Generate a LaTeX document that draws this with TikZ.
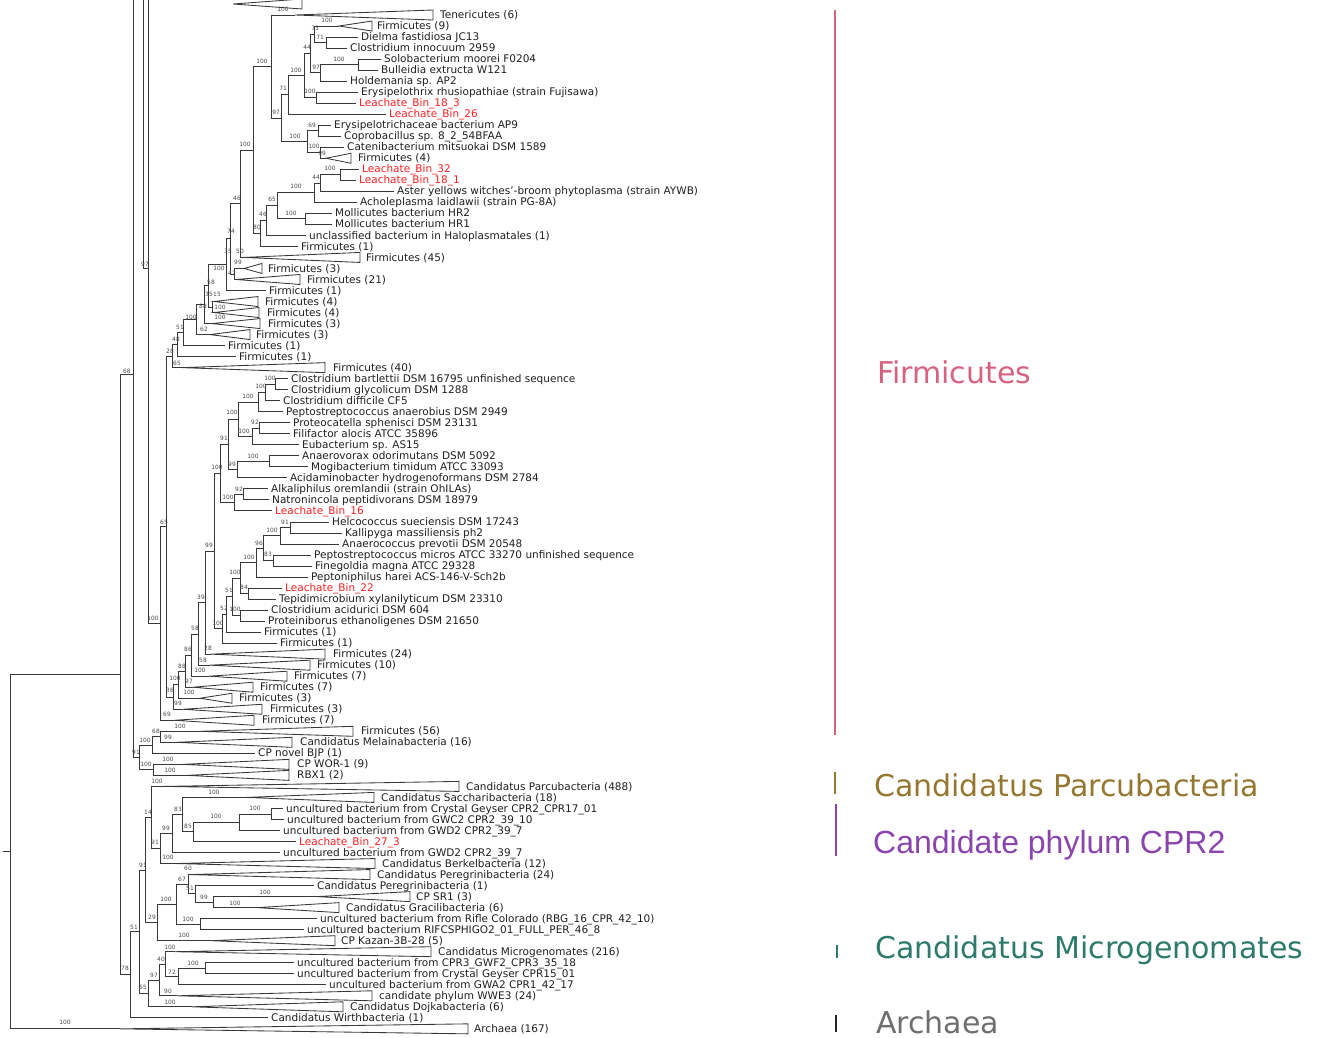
\documentclass[tikz,border=0pt]{standalone}
\usepackage{fontspec}
\setmainfont{DejaVu Sans}
\newfontfamily\cprfont{Liberation Sans}
\usetikzlibrary{calc}
\definecolor{firm}{HTML}{D6627F}
\definecolor{parc}{HTML}{957730}
\definecolor{cprtwo}{HTML}{8A44AE}
\definecolor{micro}{HTML}{2D7A6C}
\definecolor{arch}{HTML}{6E6E6E}
\definecolor{leach}{HTML}{FF2020}
\newcommand{\lfont}{\fontsize{10.5}{11}\selectfont}
\newcommand{\sfont}{\fontsize{5.9}{6.5}\selectfont}
\newcommand{\lf}[4][]{%
  \coordinate (t#2) at ({#3-3},{15+11.02*#2});
  \node[leaf,#1] (r#2) at (#3,{15+11.02*#2}) {#4};}
\newcommand{\tri}[6][]{%
  \coordinate (t#2) at (#3,{15+11.02*#2});
  \draw[br] (t#2) -- (#4,{15+11.02*#2-5}) -- (#4,{15+11.02*#2+5}) -- cycle;
  \node[leaf,#1] (r#2) at (#5,{15+11.02*#2}) {#6};}
\newcommand{\nd}[4]{%
  \path let \p1=(#3), \p2=(#4) in (#2pt,{0.5*\y1+0.5*\y2}) coordinate (#1);
  \draw[br] (#1) |- (#3);
  \draw[br] (#1) |- (#4);}
\newcount\supn
\newcommand{\sv}[3]{\global\advance\supn by 1\relax\node[sup] (s\the\supn) at (#1,#2) {#3};}
\begin{document}
\begin{tikzpicture}[x=1pt,y=-1pt,
  br/.style={draw=black!78, line width=0.85pt},
  leaf/.style={anchor=west, inner sep=0pt, font=\lfont, text=black!88, text height=7.4pt, text depth=2.2pt, yshift=-1pt},
  red/.style={text=leach},
  sup/.style={inner sep=0pt, font=\sfont, text=black!72},
  bar/.style={line width=1.8pt},
  legend/.style={anchor=base west, inner sep=0pt, font=\fontsize{30}{32}\selectfont}]
\useasboundingbox (0,0) rectangle (1322,1038);
% ---------- leaves ----------
\coordinate (tm) at (233,4);
\draw[br] (tm) -- (302,-1) -- (302,9) -- cycle;
\tri{0}{295}{433}{440}{Tenericutes (6)}
\tri{1}{339}{372}{377}{Firmicutes (9)}
\lf{2}{361}{Dielma fastidiosa JC13}
\lf{3}{350}{Clostridium innocuum 2959}
\lf{4}{384}{Solobacterium moorei F0204}
\lf{5}{381}{Bulleidia extructa W121}
\lf{6}{350}{Holdemania sp. AP2}
\lf{7}{361}{Erysipelothrix rhusiopathiae (strain Fujisawa)}
\lf[red]{8}{359}{Leachate\_Bin\_18\_3}
\lf[red]{9}{389}{Leachate\_Bin\_26}
\lf{10}{334}{Erysipelotrichaceae bacterium AP9}
\lf{11}{344}{Coprobacillus sp. 8\_2\_54BFAA}
\lf{12}{347}{Catenibacterium mitsuokai DSM 1589}
\tri{13}{326}{351}{358}{Firmicutes (4)}
\lf[red]{14}{362}{Leachate\_Bin\_32}
\lf[red]{15}{359}{Leachate\_Bin\_18\_1}
\lf{16}{397}{Aster yellows witches'-broom phytoplasma (strain AYWB)}
\lf{17}{360}{Acholeplasma laidlawii (strain PG-8A)}
\lf{18}{335}{Mollicutes bacterium HR2}
\lf{19}{335}{Mollicutes bacterium HR1}
\lf{20}{309}{unclassified bacterium in Haloplasmatales (1)}
\lf{21}{301}{Firmicutes (1)}
\tri{22}{244}{360}{366}{Firmicutes (45)}
\tri{23}{244}{262}{268}{Firmicutes (3)}
\tri{24}{236}{300}{307}{Firmicutes (21)}
\lf{25}{269}{Firmicutes (1)}
\tri{26}{214}{258}{265}{Firmicutes (4)}
\tri{27}{214}{259}{267}{Firmicutes (4)}
\tri{28}{212}{260}{268}{Firmicutes (3)}
\tri{29}{210}{250}{256}{Firmicutes (3)}
\lf{30}{228}{Firmicutes (1)}
\lf{31}{239}{Firmicutes (1)}
\tri{32}{182}{325}{333}{Firmicutes (40)}
\lf{33}{291}{Clostridium bartlettii DSM 16795 unfinished sequence}
\lf{34}{291}{Clostridium glycolicum DSM 1288}
\lf{35}{283}{Clostridium difficile CF5}
\lf{36}{286}{Peptostreptococcus anaerobius DSM 2949}
\lf{37}{293}{Proteocatella sphenisci DSM 23131}
\lf{38}{293}{Filifactor alocis ATCC 35896}
\lf{39}{302}{Eubacterium sp. AS15}
\lf{40}{302}{Anaerovorax odorimutans DSM 5092}
\lf{41}{311}{Mogibacterium timidum ATCC 33093}
\lf{42}{290}{Acidaminobacter hydrogenoformans DSM 2784}
\lf{43}{271}{Alkaliphilus oremlandii (strain OhILAs)}
\lf{44}{272}{Natronincola peptidivorans DSM 18979}
\lf[red]{45}{275}{Leachate\_Bin\_16}
\lf{46}{332}{Helcococcus sueciensis DSM 17243}
\lf{47}{345}{Kallipyga massiliensis ph2}
\lf{48}{342}{Anaerococcus prevotii DSM 20548}
\lf{49}{314}{Peptostreptococcus micros ATCC 33270 unfinished sequence}
\lf{50}{315}{Finegoldia magna ATCC 29328}
\lf{51}{311}{Peptoniphilus harei ACS-146-V-Sch2b}
\lf[red]{52}{285}{Leachate\_Bin\_22}
\lf{53}{279}{Tepidimicrobium xylanilyticum DSM 23310}
\lf{54}{271}{Clostridium acidurici DSM 604}
\lf{55}{268}{Proteiniborus ethanoligenes DSM 21650}
\lf{56}{264}{Firmicutes (1)}
\lf{57}{280}{Firmicutes (1)}
\tri{58}{211}{325}{333}{Firmicutes (24)}
\tri{59}{210}{310}{317}{Firmicutes (10)}
\tri{60}{209}{287}{294}{Firmicutes (7)}
\tri{61}{193}{253}{260}{Firmicutes (7)}
\tri{62}{200}{232}{239}{Firmicutes (3)}
\tri{63}{183}{262}{270}{Firmicutes (3)}
\tri{64}{174}{254}{262}{Firmicutes (7)}
\tri{65}{200}{353}{361}{Firmicutes (56)}
\tri{66}{176}{292}{300}{Candidatus Melainabacteria (16)}
\lf{67}{258}{CP novel BJP (1)}
\tri{68}{183}{289}{297}{CP WOR-1 (9)}
\tri{69}{187}{289}{297}{RBX1 (2)}
\tri{70}{164}{459}{466}{Candidatus Parcubacteria (488)}
\tri{71}{246}{374}{381}{Candidatus Saccharibacteria (18)}
\lf{72}{286}{uncultured bacterium from Crystal Geyser CPR2\_CPR17\_01}
\lf{73}{287}{uncultured bacterium from GWC2 CPR2\_39\_10}
\lf{74}{283}{uncultured bacterium from GWD2 CPR2\_39\_7}
\lf[red]{75}{299}{Leachate\_Bin\_27\_3}
\lf{76}{283}{uncultured bacterium from GWD2 CPR2\_39\_7}
\tri{77}{176}{375}{382}{Candidatus Berkelbacteria (12)}
\tri{78}{190}{370}{377}{Candidatus Peregrinibacteria (24)}
\lf{79}{317}{Candidatus Peregrinibacteria (1)}
\tri{80}{317}{410}{416}{CP SR1 (3)}
\tri{81}{257}{339}{346}{Candidatus Gracilibacteria (6)}
\lf{82}{320}{uncultured bacterium from Rifle Colorado (RBG\_16\_CPR\_42\_10)}
\lf{83}{307}{uncultured bacterium RIFCSPHIGO2\_01\_FULL\_PER\_46\_8}
\tri{84}{211}{335}{341}{CP Kazan-3B-28 (5)}
\tri{85}{175}{431}{438}{Candidatus Microgenomates (216)}
\lf{86}{297}{uncultured bacterium from CPR3\_GWF2\_CPR3\_35\_18}
\lf{87}{297}{uncultured bacterium from Crystal Geyser CPR15\_01}
\lf{88}{329}{uncultured bacterium from GWA2 CPR1\_42\_17}
\tri{89}{177}{372}{379}{candidate phylum WWE3 (24)}
\tri{90}{192}{343}{350}{Candidatus Dojkabacteria (6)}
\lf{91}{271}{Candidatus Wirthbacteria (1)}
\tri{92}{120}{468}{474}{Archaea (167)}
% ---------- internal nodes: upper Firmicutes ----------
\nd{e1}{326}{t2}{t3}
\nd{e2}{314}{t1}{e1}
\nd{e4}{358}{t4}{t5}
\nd{e5}{320}{e4}{t6}
\nd{e3}{310}{e2}{e5}
\nd{e7}{316}{t7}{t8}
\nd{e6}{304}{e3}{e7}
\nd{e8}{288}{e6}{t9}
\nd{e10}{318}{t10}{t11}
\nd{e12}{320}{t12}{t13}
\nd{e11}{307}{e10}{e12}
\nd{e9}{281}{e8}{e11}
\nd{e14}{271}{t0}{e9}
\nd{e22}{340}{t14}{t15}
\nd{e21}{320}{e22}{t16}
\nd{e20}{314}{e21}{t17}
\nd{mp}{305}{t18}{t19}
\nd{e19}{277}{e20}{mp}
\nd{e18}{266}{e19}{t20}
\nd{e17}{260}{e18}{t21}
\nd{e16}{253}{e14}{e17}
\nd{e23}{240}{e16}{t22}
\nd{ga}{234}{t23}{t24}
\nd{e24}{230}{e23}{ga}
\nd{e25}{226}{e24}{t25}
\nd{gc}{212}{t26}{t27}
\nd{gd}{208}{e25}{gc}
\nd{ge}{204}{gd}{t28}
\nd{gf}{196}{ge}{t29}
\nd{gg}{183}{gf}{t30}
\nd{gh}{177}{gg}{t31}
\nd{P1}{172}{gh}{t32}
% ---------- Clostridia ----------
\nd{c1}{275}{t33}{t34}
\nd{c2}{265}{c1}{t35}
\nd{c3}{258}{c2}{t36}
\nd{c4}{259}{t37}{t38}
\nd{c5}{252}{c4}{t39}
\nd{c6}{238}{c3}{c5}
\nd{c8}{269}{t40}{t41}
\nd{c9}{237}{c8}{t42}
\nd{c7}{228}{c6}{c9}
\nd{c11}{243}{t43}{t44}
\nd{c12}{234}{c11}{t45}
\nd{c10}{220}{c7}{c12}
\nd{h1}{290}{t46}{t47}
\nd{h2}{280}{h1}{t48}
\nd{h4}{273}{t49}{t50}
\nd{h3}{263}{h2}{h4}
\nd{h5}{256}{h3}{t51}
\nd{h7}{248}{t52}{t53}
\nd{h6}{240}{h5}{h7}
\nd{h8}{240}{t54}{t55}
\nd{h9}{232}{h6}{h8}
\nd{h10}{226}{h9}{t56}
\nd{h11}{222}{h10}{t57}
\nd{h12}{214}{c10}{h11}
\nd{h13}{205}{h12}{t58}
\nd{h14}{198}{h13}{t59}
\nd{h15}{191}{h14}{t60}
\nd{h16}{185}{h15}{t61}
\nd{h17}{178}{h16}{t62}
\nd{h18}{173}{h17}{t63}
\nd{O}{166}{P1}{h18}
\nd{N}{160}{O}{t64}
\coordinate (K) at (148,268);
\coordinate (Ktop) at (148,0);
\draw[br] (Ktop) -- (K);
\draw[br] (K) |- (N);
\coordinate (Jtop) at (143,0);
\draw[br] (Jtop) |- (K);
% ---------- lower groups ----------
\nd{II}{160}{t65}{t66}
\nd{GG}{152}{II}{t67}
\nd{HH}{153}{t68}{t69}
\nd{FF}{139}{GG}{HH}
\coordinate (B) at (133,374);
\coordinate (Btop) at (133,0);
\draw[br] (Btop) |- (FF);
% ---------- CPR ----------
\nd{nV}{271}{t72}{t73}
\nd{nU}{239}{nV}{t74}
\nd{nT}{193}{nU}{t75}
\nd{nS}{182}{t71}{nT}
\nd{nQ}{172}{nS}{t76}
\nd{nP}{160}{nQ}{t77}
\nd{M1a}{151}{t70}{nP}
\nd{nAA}{213}{t80}{t81}
\nd{nZ}{195}{t79}{nAA}
\nd{nX}{188}{t78}{nZ}
\nd{nY}{200}{t82}{t83}
\nd{nW}{176}{nX}{nY}
\nd{M1b}{157}{nW}{t84}
\nd{M1}{145}{M1a}{M1b}
\nd{EE}{205}{t86}{t87}
\nd{DD}{178}{EE}{t88}
\nd{CC}{165}{t85}{DD}
\nd{BB}{159}{CC}{t89}
\nd{M2}{148}{BB}{t90}
\nd{nM}{139}{M1}{M2}
\nd{nL}{130}{nM}{t91}
\nd{nA}{120}{B}{nL}
\nd{root}{10}{nA}{t92}
\coordinate (stem) at ([xshift=-7pt]root);
\draw[br] (stem) -- (root);
% ---------- support values ----------
\sv{283}{9}{100}\sv{327}{20}{100}\sv{315}{28}{73}\sv{320}{37}{71}\sv{307}{47}{44}
\sv{339}{59}{100}\sv{262}{61}{100}\sv{316}{67}{97}\sv{296}{70}{100}\sv{283}{88}{71}
\sv{310}{91}{100}\sv{276}{112}{97}\sv{312}{125}{69}\sv{295}{136}{100}\sv{245}{144}{100}
\sv{314}{146}{100}\sv{322}{153}{99}\sv{330}{168}{100}\sv{316}{177}{44}\sv{296}{186}{100}
\sv{237}{198}{46}\sv{272}{199}{65}\sv{291}{213}{100}\sv{263}{214}{46}\sv{257}{227}{80}
\sv{231}{231}{74}\sv{228}{251}{35}\sv{240}{251}{50}\sv{145}{264}{97}\sv{238}{262}{99}
\sv{219}{268}{100}\sv{232}{273}{42}\sv{211}{282}{58}\sv{209}{294}{35}\sv{217}{294}{15}
\sv{203}{306}{88}\sv{220}{307}{100}\sv{220}{317}{100}\sv{191}{317}{100}\sv{180}{327}{51}
\sv{204}{329}{62}\sv{176}{339}{48}\sv{170}{351}{28}\sv{177}{363}{65}\sv{127}{371}{68}
\sv{270}{378}{100}\sv{261}{386}{100}\sv{248}{396}{100}\sv{232}{412}{100}\sv{255}{422}{92}
\sv{244}{431}{100}\sv{224}{438}{91}\sv{253}{456}{100}\sv{232}{464}{99}\sv{217}{467}{100}
\sv{239}{489}{92}\sv{228}{497}{100}\sv{164}{522}{65}\sv{285}{522}{91}\sv{272}{530}{100}
\sv{259}{543}{96}\sv{209}{545}{99}\sv{268}{554}{83}\sv{249}{557}{100}\sv{235}{572}{100}
\sv{244}{587}{84}\sv{229}{590}{51}\sv{201}{597}{39}\sv{224}{608}{52}\sv{235}{609}{100}
\sv{153}{618}{100}\sv{218}{623}{100}\sv{195}{628}{58}\sv{208}{648}{28}\sv{188}{649}{86}
\sv{203}{660}{58}\sv{182}{666}{88}\sv{200}{670}{100}\sv{175}{678}{100}\sv{189}{681}{97}
\sv{170}{690}{36}\sv{189}{692}{100}\sv{178}{703}{99}\sv{167}{714}{69}\sv{180}{726}{100}
\sv{156}{731}{68}\sv{168}{737}{99}\sv{145}{740}{100}\sv{136}{752}{91}\sv{168}{759}{100}
\sv{146}{764}{100}\sv{170}{770}{100}\sv{157}{781}{100}\sv{214}{792}{100}\sv{255}{808}{100}
\sv{178}{809}{83}\sv{148}{812}{14}\sv{216}{816}{100}\sv{188}{826}{85}\sv{166}{828}{99}
\sv{155}{842}{91}\sv{168}{857}{100}\sv{143}{865}{91}\sv{188}{868}{60}\sv{182}{879}{67}
\sv{190}{888}{51}\sv{265}{892}{100}\sv{204}{897}{99}\sv{166}{899}{100}\sv{235}{903}{100}
\sv{152}{917}{29}\sv{188}{919}{100}\sv{134}{927}{51}\sv{184}{935}{100}\sv{170}{947}{100}
\sv{161}{959}{40}\sv{193}{963}{100}\sv{125}{968}{78}\sv{172}{972}{72}\sv{154}{975}{97}
\sv{143}{987}{65}\sv{168}{991}{90}\sv{170}{1002}{100}\sv{65}{1022}{100}
% ---------- legend ----------
\coordinate (fa) at (835,10); \coordinate (fb) at (835,735);
\draw[bar, firm] (fa) -- (fb);
\node[legend, text=firm] (lfirm) at (877,383) {Firmicutes};
\coordinate (pa) at (835,772); \coordinate (pb) at (835,794);
\draw[bar, parc] (pa) -- (pb);
\node[legend, text=parc] (lparc) at (874,796) {Candidatus Parcubacteria};
\coordinate (ca) at (836,804); \coordinate (cb) at (836,856);
\draw[bar, cprtwo] (ca) -- (cb);
\node[legend, text=cprtwo, font=\cprfont\fontsize{32}{34}\selectfont] (lcpr) at (873,853) {Candidate phylum CPR2};
\coordinate (ma) at (837,945); \coordinate (mb) at (837,958);
\draw[bar, micro] (ma) -- (mb);
\node[legend, text=micro] (lmic) at (875,958) {Candidatus Microgenomates};
\coordinate (aa) at (836,1015); \coordinate (ab) at (836,1032);
\draw[bar, black!85] (aa) -- (ab);
\node[legend, text=arch] (larc) at (876,1033) {Archaea};
\end{tikzpicture}
\end{document}
